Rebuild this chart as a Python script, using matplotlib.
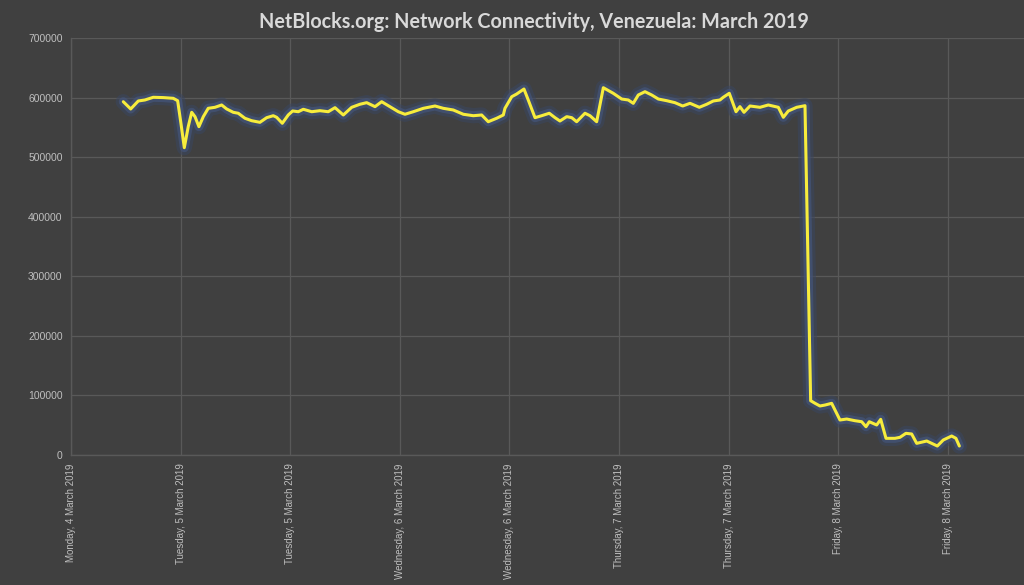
import matplotlib
matplotlib.use('Agg')
import matplotlib.pyplot as plt

# hours since the first axis label (Monday, 4 March 2019)
hours = [
    5.73, 6.54, 7.37, 8.10, 9.01, 10.11, 11.20, 11.68, 12.04, 12.41,
    12.84, 13.22, 13.58, 14.01, 14.49, 15.03, 15.77, 16.50, 17.05, 17.77,
    18.32, 19.05, 19.79, 20.69, 21.43, 22.15, 22.52, 23.14, 23.79, 24.27,
    24.89, 25.44, 26.36, 27.26, 28.17, 28.91, 29.82, 30.74, 31.64, 32.38,
    33.29, 34.02, 34.93, 35.84, 36.57, 37.48, 38.58, 39.86, 40.77, 41.86,
    42.96, 44.05, 44.97, 45.69, 46.61, 47.34, 47.52, 48.26, 48.80, 49.60,
    50.07, 50.81, 51.54, 52.37, 53.00, 53.54, 54.28, 54.83, 55.37, 56.28,
    56.83, 57.56, 58.29, 59.38, 60.30, 61.02, 61.57, 62.12, 62.85, 63.58,
    64.31, 65.23, 66.13, 66.98, 67.78, 68.80, 69.61, 70.33, 71.06, 71.42,
    72.08, 72.82, 73.25, 73.69, 74.35, 75.44, 76.35, 77.45, 78.00, 78.54,
    79.46, 80.37, 80.99, 81.47, 82.01, 82.56, 83.29, 83.66, 84.20, 84.94,
    85.84, 86.58, 87.05, 87.41, 88.22, 88.66, 89.24, 90.22, 90.77, 91.42,
    92.05, 92.60, 93.70, 94.24, 94.86, 95.51, 96.43, 96.90, 97.27,
]
connectivity = [
    593100, 580900, 594300, 596000, 600500, 600000, 598800, 594800, 556900, 515900,
    551200, 575300, 568000, 551200, 568000, 582000, 583700, 587600, 580900, 575300,
    573700, 565300, 561200, 558500, 566300, 569600, 566900, 556900, 570800, 577500,
    576300, 580400, 576300, 578000, 576300, 583100, 570800, 583700, 588800, 591500,
    584800, 593100, 584800, 576300, 572000, 576300, 582000, 585900, 582000, 579200,
    572000, 569600, 570800, 559500, 565300, 570800, 582000, 601500, 606000, 614400,
    596000, 566300, 569600, 573700, 566300, 560700, 568000, 566300, 559500, 573700,
    569600, 559500, 616600, 607200, 597600, 596000, 590400, 604400, 609900, 604400,
    597600, 594800, 591500, 585900, 590400, 583700, 588800, 594300, 596000, 600500,
    607200, 576300, 584800, 575300, 585900, 583700, 587600, 583700, 566900, 577500,
    583700, 586400, 91200, 86800, 82300, 83900, 86800, 75500, 58800, 60400,
    57600, 55900, 47500, 55900, 50400, 59900, 28000, 28000, 29700, 36400,
    35300, 19600, 23500, 19600, 15100, 25200, 31900, 28000, 15100,
]
tick_hours = [0, 12, 24, 36, 48, 60, 72, 84, 96]
tick_labels = [
    "Monday, 4 March 2019", "Tuesday, 5 March 2019", "Tuesday, 5 March 2019",
    "Wednesday, 6 March 2019", "Wednesday, 6 March 2019", "Thursday, 7 March 2019",
    "Thursday, 7 March 2019", "Friday, 8 March 2019", "Friday, 8 March 2019",
]
y_ticks = [0, 100000, 200000, 300000, 400000, 500000, 600000, 700000]

BG = '#404040'
GRID = '#595959'
TXT = '#bfbfbf'

fig = plt.figure(figsize=(10.24, 5.85), dpi=100, facecolor=BG)
ax = fig.add_axes([0.0693, 0.2222, 0.9307, 0.7128], facecolor=BG)

# soft blue glow under the yellow line
ax.plot(hours, connectivity, color='#3a4660', lw=11, alpha=0.55,
        solid_joinstyle='round', solid_capstyle='round')
ax.plot(hours, connectivity, color='#44557a', lw=6.5, alpha=0.7,
        solid_joinstyle='round', solid_capstyle='round')
ax.plot(hours, connectivity, color='#f7ec3c', lw=2.2,
        solid_joinstyle='round', solid_capstyle='round')

ax.set_xlim(0, 104.35)
ax.set_ylim(0, 700000)
ax.set_xticks(tick_hours)
ax.set_xticklabels(tick_labels, rotation=90, fontsize=7, color=TXT,
                   family='Liberation Sans')
ax.set_yticks(y_ticks)
ax.set_yticklabels([str(v) for v in y_ticks], fontsize=7.5, color=TXT,
                   family='Liberation Sans')
ax.tick_params(length=0, pad=6)
ax.grid(True, color=GRID, lw=0.9)
ax.set_axisbelow(True)
for side in ['top', 'right']:
    ax.spines[side].set_visible(False)
for side in ['left', 'bottom']:
    ax.spines[side].set_color(GRID)
    ax.spines[side].set_linewidth(1.0)

fig.text(0.521, 0.963, "NetBlocks.org: Network Connectivity, Venezuela: March 2019",
         ha='center', va='center', fontsize=14.2, fontweight='bold',
         color='#d9d9d9', family='Lato')

plt.savefig('out.png', dpi=100, facecolor=BG)
plt.close()
